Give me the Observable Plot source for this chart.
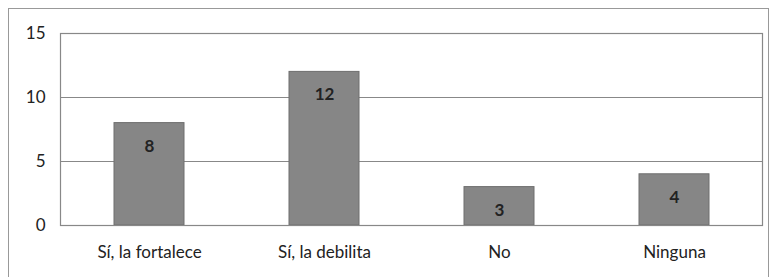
<!DOCTYPE html>
<html>
<head>
<meta charset="utf-8">
<script src="https://cdn.jsdelivr.net/npm/d3@7"></script>
<script src="https://cdn.jsdelivr.net/npm/@observablehq/plot@0.6"></script>
<style>
  body { margin: 0; background: #fff; }
  #wrap { position: relative; width: 775px; height: 277px; }
  #box { position: absolute; left: 8px; top: 8px; width: 761px; height: 270px; box-sizing: border-box; border: 1px solid #999; }
  #chart { position: absolute; left: 0; top: 0; }
</style>
</head>
<body>
<div id="wrap"><div id="box"></div><div id="chart"></div></div>
<script>
const categories = ["Sí, la fortalece", "Sí, la debilita", "No", "Ninguna"];
const values = [8, 12, 3, 4];
const yTicks = [0, 5, 10, 15];
const gridLines = [5, 10];

const data = categories.map((c, i) => ({category: c, value: values[i]}));

const chart = Plot.plot({
  width: 775,
  height: 277,
  marginLeft: 60,
  marginRight: 13,
  marginTop: 33,
  marginBottom: 52,
  style: {fontFamily: "Lato, 'Open Sans', sans-serif", fontSize: "17px", color: "#222", background: "transparent"},
  x: {domain: categories, paddingInner: 0.6, paddingOuter: 0.3, label: null, tickSize: 0, tickPadding: 20},
  y: {domain: [0, 15], ticks: yTicks, label: null, tickSize: 0, tickPadding: 15},
  marks: [
    Plot.ruleY(gridLines, {stroke: "#888", strokeWidth: 1}),
    Plot.barY(data, {x: "category", y: "value", fill: "#868686", stroke: "#6e6e6e", strokeWidth: 1}),
    Plot.frame({stroke: "#888", strokeWidth: 1.2}),
    Plot.text(data, {x: "category", y: "value", text: d => String(d.value), dy: 23, fill: "#222", fontSize: 17, fontWeight: "bold"})
  ]
});
document.getElementById("chart").appendChild(chart);
</script>
</body>
</html>
